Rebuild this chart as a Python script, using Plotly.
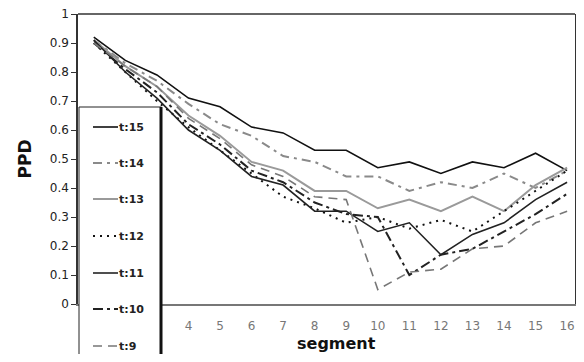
import plotly.graph_objects as go

segments = list(range(1, 17))
tick_segments = list(range(4, 17))
y_ticks = [i / 10 for i in range(0, 11)]

series_names = ["t:15", "t:14", "t:13", "t:12", "t:11", "t:10", "t:9"]
t15 = [0.92, 0.84, 0.79, 0.71, 0.68, 0.61, 0.59, 0.53, 0.53, 0.47, 0.49, 0.45, 0.49, 0.47, 0.52, 0.46]
t14 = [0.91, 0.83, 0.77, 0.69, 0.62, 0.58, 0.51, 0.49, 0.44, 0.44, 0.39, 0.42, 0.40, 0.45, 0.40, 0.46]
t13 = [0.91, 0.82, 0.75, 0.65, 0.58, 0.49, 0.46, 0.39, 0.39, 0.33, 0.36, 0.32, 0.37, 0.32, 0.41, 0.47]
t12 = [0.90, 0.80, 0.70, 0.61, 0.53, 0.45, 0.37, 0.33, 0.28, 0.30, 0.26, 0.29, 0.25, 0.32, 0.39, 0.46]
t11 = [0.91, 0.80, 0.71, 0.60, 0.53, 0.44, 0.41, 0.32, 0.32, 0.25, 0.28, 0.17, 0.24, 0.28, 0.36, 0.42]
t10 = [0.90, 0.81, 0.73, 0.62, 0.55, 0.46, 0.42, 0.35, 0.31, 0.30, 0.10, 0.17, 0.19, 0.25, 0.31, 0.38]
t9 = [0.90, 0.82, 0.75, 0.64, 0.57, 0.48, 0.44, 0.37, 0.36, 0.05, 0.11, 0.12, 0.19, 0.20, 0.28, 0.32]
series_values = [t15, t14, t13, t12, t11, t10, t9]

styles = [
    dict(color="#111111", width=1.6, dash="solid"),
    dict(color="#8a8a8a", width=2.0, dash="9px,5px,3px,5px"),
    dict(color="#9a9a9a", width=2.0, dash="solid"),
    dict(color="#111111", width=2.0, dash="2px,5px"),
    dict(color="#222222", width=1.6, dash="solid"),
    dict(color="#222222", width=2.0, dash="10px,4px,3px,4px"),
    dict(color="#777777", width=1.6, dash="9px,6px"),
]

fig = go.Figure()
for name, vals, st in zip(series_names, series_values, styles):
    fig.add_trace(go.Scatter(x=segments, y=vals, mode="lines", name=name,
                             line=dict(color=st["color"], width=st["width"], dash=st["dash"])))

# positions below are page pixels; the page's default 8px body margin is compensated
PL, PT, W, H = 78, 14, 497, 290
FIG_W, FIG_H = 568, 346


def px2x(px):
    return (px - PL) / W


def py2y(py):
    return (PT + H - py) / H


shapes = []
annotations = []
shapes.append(dict(type="rect", xref="paper", yref="paper",
                   x0=px2x(79), x1=px2x(161), y0=py2y(380), y1=py2y(107),
                   fillcolor="white", line=dict(color="#222222", width=1), layer="above"))
shapes.append(dict(type="line", xref="paper", yref="paper",
                   x0=px2x(161), x1=px2x(161), y0=py2y(380), y1=py2y(107),
                   line=dict(color="#111111", width=3), layer="above"))
entry_y = [127, 163, 199, 236, 273, 309, 346]
for name, st, ey in zip(series_names, styles, entry_y):
    shapes.append(dict(type="line", xref="paper", yref="paper",
                       x0=px2x(93), x1=px2x(118), y0=py2y(ey), y1=py2y(ey),
                       line=dict(color=st["color"], width=st["width"], dash=st["dash"]),
                       layer="above"))
    annotations.append(dict(xref="paper", yref="paper", x=px2x(117), y=py2y(ey),
                            text="<b>" + name + "</b>", showarrow=False, xanchor="left", yanchor="middle",
                            font=dict(family="DejaVu Sans", size=11, color="#222222")))
annotations.append(dict(xref="paper", yref="paper", x=px2x(336), y=py2y(343),
                        text="<b>segment</b>", showarrow=False, xanchor="center", yanchor="middle",
                        font=dict(family="DejaVu Sans", size=16, color="#111111")))

fig.update_layout(
    template="none",
    width=FIG_W, height=FIG_H,
    margin=dict(l=PL - 8, r=FIG_W - (PL - 8) - W, t=PT - 8, b=FIG_H - (PT - 8) - H, autoexpand=False),
    paper_bgcolor="white", plot_bgcolor="white",
    showlegend=False,
    shapes=shapes, annotations=annotations,
    font=dict(family="DejaVu Sans"),
)
fig.update_xaxes(automargin=False, range=[0.5, 16.25], tickvals=tick_segments,
                 ticktext=[str(v) for v in tick_segments],
                 showgrid=False, zeroline=False, showline=True, linecolor="#777777", linewidth=1.5,
                 mirror=False, ticks="", ticklabelstandoff=10, ticklabeloverflow="allow",
                 tickfont=dict(family="DejaVu Sans", size=12, color="#777777"))
fig.update_yaxes(automargin=False, range=[0, 1], tickvals=y_ticks,
                 ticktext=["0" if v == 0 else ("1" if v == 1 else f"{v:.1f}") for v in y_ticks],
                 showgrid=False, zeroline=False, showline=True, linecolor="#333333", linewidth=1.5,
                 mirror=True, ticks="outside", ticklen=5, tickcolor="#333333", tickwidth=1,
                 ticklabeloverflow="allow",
                 tickfont=dict(family="DejaVu Sans", size=12, color="#222222"),
                 title=dict(text="<b>PPD</b>", standoff=14,
                            font=dict(family="DejaVu Sans", size=17, color="#111111")))
fig.add_shape(type="line", xref="paper", yref="paper", x0=0, x1=1, y0=1, y1=1,
              line=dict(color="#333333", width=1.5), layer="above")

fig.write_html("out.html")
